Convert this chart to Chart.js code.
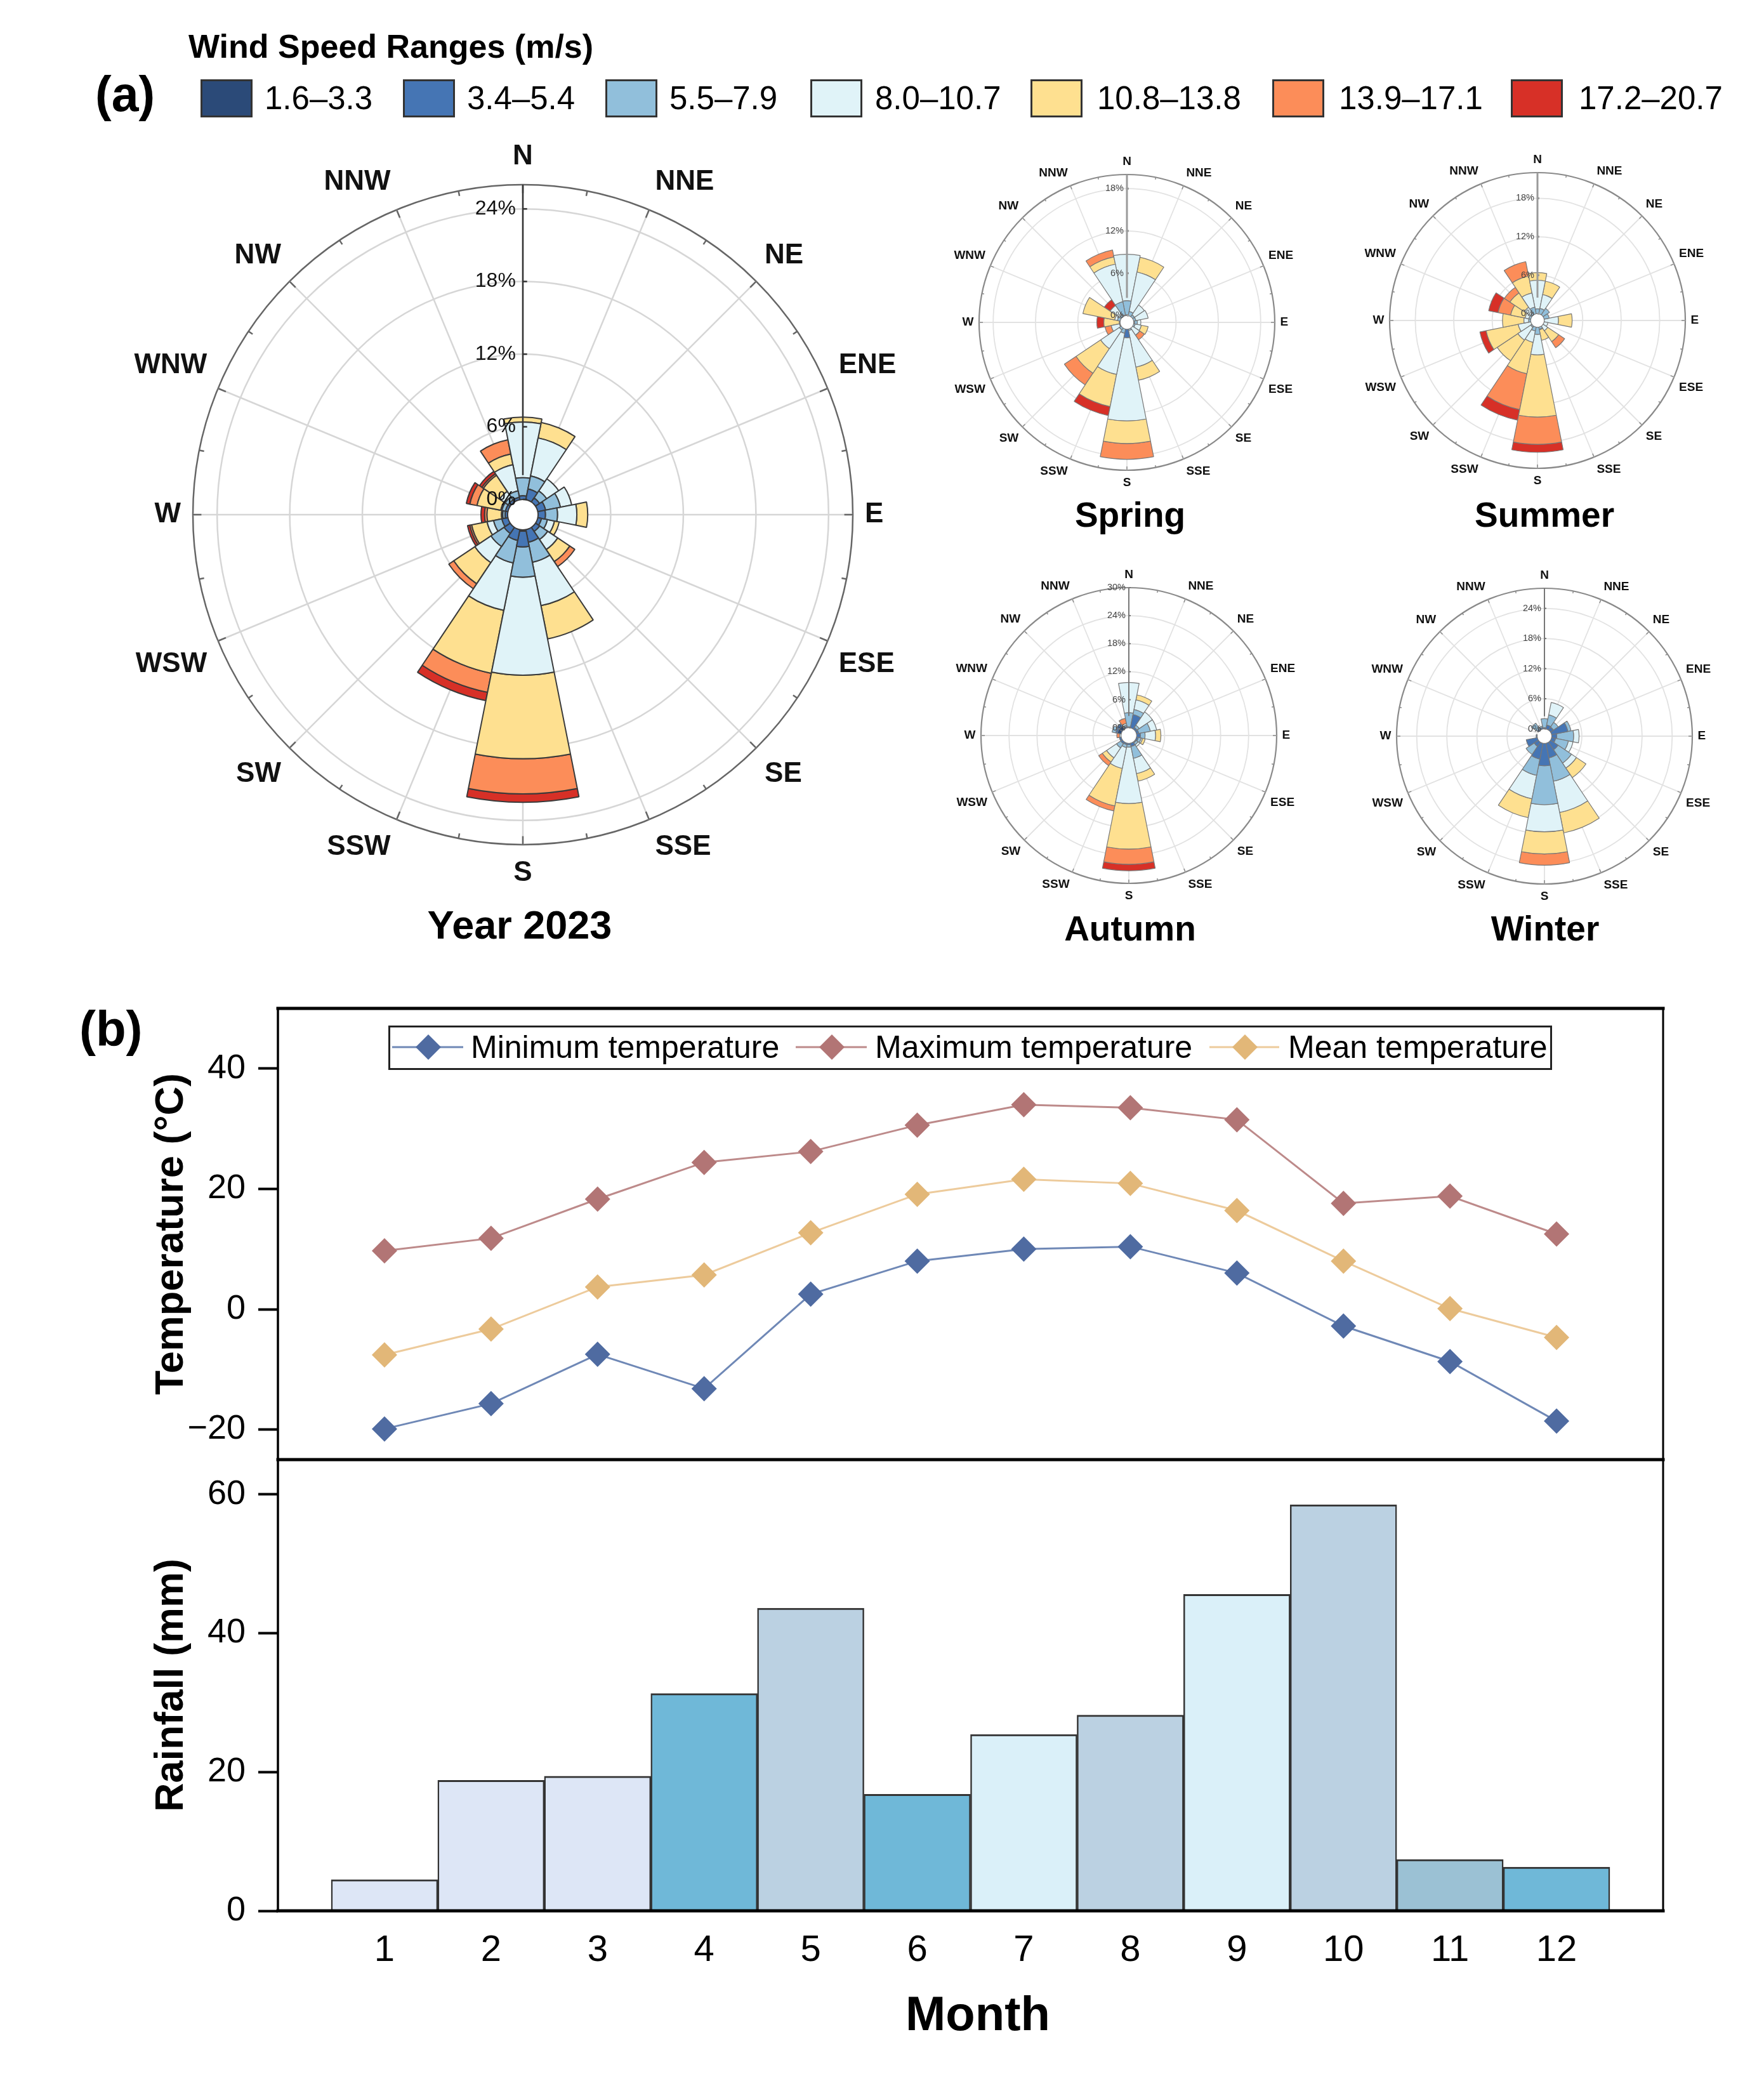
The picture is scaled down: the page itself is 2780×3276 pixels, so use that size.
<!DOCTYPE html>
<html>
<head>
<meta charset="utf-8">
<title>Wind roses and monthly climate 2023</title>
<script src="https://cdn.jsdelivr.net/npm/chart.js@4"></script>
<style>
  html, body { margin: 0; padding: 0; background: #fff; }
  body { position: relative; width: 2780px; height: 3276px; overflow: hidden; font-family: "Liberation Sans", Arial, sans-serif; color: #000; }
  canvas { position: absolute; }
  .txt { position: absolute; white-space: nowrap; line-height: 1; }
  .mid { transform: translate(-50%, -50%); }
  .vmid { transform: translateY(-50%); }
  .b { font-weight: bold; }
  .swatch { position: absolute; box-sizing: border-box; border: 3px solid #333; }
  #tempLegend { position: absolute; left: 612px; top: 1616px; width: 1834px; height: 70px; box-sizing: border-box; border: 3px solid #222; background: #fff; z-index: 2; }
</style>
</head>
<body>
<script>
// ---- data ----
const directions = ['N', 'NNE', 'NE', 'ENE', 'E', 'ESE', 'SE', 'SSE', 'S', 'SSW', 'SW', 'WSW', 'W', 'WNW', 'NW', 'NNW'];
const speedBins = ['1.6–3.3', '3.4–5.4', '5.5–7.9', '8.0–10.7', '10.8–13.8', '13.9–17.1', '17.2–20.7'];
const speedColors = ['#2b4a78', '#4575b4', '#91bfdb', '#e0f3f8', '#fee090', '#fc8d59', '#d73027'];

// each row is one direction, each column one speed bin (% of time)
const yearRose = [
  [0, 0.3, 1.5, 4.6, 0.4, 0, 0],
  [0, 0.9, 1.1, 3.2, 1.3, 0, 0],
  [0, 0.4, 0.7, 1.2, 0, 0, 0],
  [0, 0.65, 1.25, 0.95, 0, 0, 0],
  [0, 0.6, 1.0, 1.6, 0.9, 0, 0],
  [0, 0.3, 0.5, 0.6, 0.4, 0, 0],
  [0, 0.4, 0.8, 1.0, 1.2, 0.5, 0],
  [0, 1.05, 1.7, 3.65, 2.8, 0, 0],
  [0.1, 1.3, 2.5, 8.1, 6.9, 2.9, 0.7],
  [0, 0.9, 1.9, 4.0, 5.3, 1.6, 0.7],
  [0, 0.6, 1.3, 1.6, 2.1, 0.5, 0],
  [0, 0.5, 0.7, 0.55, 1.3, 0.15, 0.2],
  [0, 0.2, 0.2, 0.1, 1.2, 0.2, 0.3],
  [0, 0.2, 0.3, 0.1, 2.0, 0.6, 0.3],
  [0, 0.2, 0.3, 0.55, 1.6, 0.15, 0.25],
  [0, 0.2, 0.55, 2.2, 0.9, 1.2, 0],
];
const springRose = [
  [0, 0.1, 2.0, 6.6, 0, 0, 0],
  [0, 0, 0.6, 5.7, 2.15, 0, 0],
  [0, 0, 0.3, 1.7, 0, 0, 0],
  [0, 0, 0.3, 1.8, 0, 0, 0],
  [0, 0.1, 0.4, 0.5, 0, 0, 0],
  [0, 0, 0.2, 0.9, 1.0, 0, 0],
  [0, 0, 0, 1.2, 0, 0.8, 0],
  [0, 0, 0.2, 5.3, 1.9, 0, 0],
  [0, 1.2, 0, 11.8, 3.2, 2.25, 0],
  [0, 0, 0.6, 5.95, 4.65, 0, 1.3],
  [0, 0, 0.3, 3.2, 4.2, 2.0, 0],
  [0, 0, 0.1, 1.2, 0, 0.9, 0],
  [0, 0, 0, 0.1, 2.2, 0, 1.0],
  [0, 0, 0.4, 0.4, 4.6, 0, 0],
  [0, 0, 0.3, 1.6, 0, 0, 1.0],
  [0, 0.1, 1.9, 5.45, 1.05, 1.0, 0],
];
const summerRose = [
  [0, 0, 0.75, 4.45, 1.2, 0, 0],
  [0, 0, 0.85, 2.2, 2.15, 0, 0],
  [0, 0, 1.2, 0, 0, 0, 0],
  [0, 0, 0.8, 0, 0, 0, 0],
  [0, 0, 0, 2.2, 2.15, 0, 0],
  [0, 0, 0, 0.6, 0, 0, 0],
  [0, 0, 0, 0.85, 2.05, 1.15, 0],
  [0, 0, 0.3, 0.1, 1.7, 0, 0],
  [0, 0, 1.1, 3.2, 9.7, 4.25, 1.25],
  [0, 0, 0.6, 1.8, 5.0, 5.7, 1.7],
  [0, 0, 0.2, 2.4, 3.9, 0, 0],
  [0, 0, 0, 2.0, 5.1, 0, 1.0],
  [0, 0, 0.3, 0.75, 3.35, 0, 0],
  [0, 0, 0.3, 0.6, 2.3, 2.0, 1.5],
  [0, 0, 0.3, 1.1, 2.7, 1.05, 0],
  [0, 0, 1.05, 2.25, 2.7, 2.3, 0],
];
const autumnRose = [
  [0, 0.2, 3.0, 6.5, 0, 0, 0],
  [0, 2.9, 1.1, 2.1, 1.1, 0, 0],
  [0, 0.4, 0.6, 3.4, 0, 0, 0],
  [0, 0.5, 2.5, 1.4, 0, 0, 0],
  [0, 0.8, 1.0, 2.25, 1.15, 0, 0],
  [0, 0.4, 0.6, 0.3, 0.6, 0, 0],
  [0, 0.2, 0.5, 0.5, 0, 0, 0],
  [0, 0.7, 2.6, 3.35, 1.65, 0, 0],
  [0, 0.3, 0.5, 12.1, 9.75, 3.25, 1.4],
  [0, 0.3, 0.65, 4.55, 8.2, 1.1, 0],
  [0, 0.4, 1.1, 2.55, 1.1, 0.95, 0],
  [0, 0.4, 0, 0, 0, 0, 0],
  [0, 0, 0, 0.3, 0, 0.6, 0],
  [0.8, 0.4, 0.8, 0, 0, 0, 0],
  [0.7, 0.7, 0, 0, 0, 0, 0],
  [0, 0.3, 0.3, 0.35, 0, 1.15, 0],
];
const winterRose = [
  [0, 0.2, 1.85, 0, 0, 0, 0],
  [0, 0.8, 2.05, 2.55, 0, 0, 0],
  [0, 0.7, 1.15, 0, 0, 0, 0],
  [0, 3.3, 0.65, 0, 0, 0, 0],
  [0, 1.0, 3.35, 1.1, 0, 0, 0],
  [0, 0.8, 2.6, 0.95, 0, 0, 0],
  [0, 1.8, 3.2, 1.2, 2.3, 0, 0],
  [0, 2.95, 4.75, 6.35, 4.15, 0, 0],
  [0, 4.45, 7.75, 5.4, 4.4, 2.25, 0],
  [0, 3.2, 3.3, 4.75, 3.85, 0, 0],
  [0, 1.0, 1.95, 0, 0, 0, 0],
  [0, 2.25, 0, 0, 0, 0, 0],
  [0, 0.2, 0, 0, 0, 0, 0],
  [0, 0, 0, 0, 0, 0, 0],
  [0, 0.3, 1.35, 0, 0, 0, 0],
  [0, 0.3, 0.3, 0, 0, 0, 0],
];
const yearRings = [0, 6, 12, 18, 24];
const springRings = [0, 6, 12, 18];
const summerRings = [0, 6, 12, 18];
const autumnRings = [0, 6, 12, 18, 24, 30];
const winterRings = [0, 6, 12, 18, 24];

const months = ['1', '2', '3', '4', '5', '6', '7', '8', '9', '10', '11', '12'];
const tempMin = [-19.9, -15.7, -7.5, -13.2, 2.5, 8.0, 10.0, 10.4, 6.0, -2.8, -8.7, -18.6];
const tempMax = [9.7, 11.8, 18.3, 24.4, 26.2, 30.6, 34.0, 33.5, 31.5, 17.6, 18.8, 12.5];
const tempMean = [-7.6, -3.3, 3.7, 5.7, 12.7, 19.1, 21.6, 20.9, 16.4, 8.0, 0.1, -4.7];
const rainfall = [4.5, 18.8, 19.4, 31.3, 43.6, 16.8, 25.4, 28.2, 45.6, 58.5, 7.4, 6.3];
const rainColors = ['#dde6f6', '#dde6f6', '#dde6f6', '#6fb8d8', '#bbd1e2', '#6fb8d8', '#daf0f9', '#bbd1e2', '#daf0f9', '#bbd1e2', '#9bc1d4', '#6fb8d8'];

// ---- stacked wind rose on top of the polar area controller ----
Chart.defaults.font.family = '"Liberation Sans", Arial, sans-serif';
Chart.defaults.color = '#000';

class WindRoseController extends Chart.PolarAreaController {
  static id = 'windRose';
  updateElement(arc, index, props, mode) {
    const half = Math.PI / directions.length;
    const scale = this._cachedMeta.rScale;
    const sets = this.chart.data.datasets;
    let base = 0;
    for (let d = 0; d < this.index; d++) base += sets[d].data[index];
    props.innerRadius = scale.getDistanceFromCenterForValue(base);
    props.outerRadius = scale.getDistanceFromCenterForValue(base + sets[this.index].data[index]);
    props.startAngle -= half;
    props.endAngle -= half;
    super.updateElement(arc, index, props, mode);
  }
}
Chart.register(WindRoseController);

const roseFurniture = {
  id: 'roseFurniture',
  beforeDatasetsDraw(chart) {
    const s = chart.scales.r, ctx = chart.ctx;
    ctx.save();
    ctx.fillStyle = '#fff';
    ctx.beginPath();
    ctx.arc(s.xCenter, s.yCenter, s.getDistanceFromCenterForValue(0), 0, Math.PI * 2);
    ctx.fill();
    ctx.restore();
  },
  afterDatasetsDraw(chart, args, o) {
    const s = chart.scales.r, ctx = chart.ctx;
    const R = s.getDistanceFromCenterForValue(o.outer), k = R / 233;
    ctx.save();
    // marks on the outer ring, on the spokes and half way between them
    ctx.strokeStyle = o.ringColor;
    ctx.lineWidth = 1.2 * k > 2 ? 2.5 : 1.5;
    directions.forEach((d, i) => {
      [[0, 6], [Math.PI / 16, 3.5]].forEach(([extra, len]) => {
        const a = s.getPointPosition(i, R, extra), b = s.getPointPosition(i, R - len * k, extra);
        ctx.beginPath(); ctx.moveTo(a.x, a.y); ctx.lineTo(b.x, b.y); ctx.stroke();
      });
    });
    // radial axis
    ctx.strokeStyle = o.axisColor;
    ctx.lineWidth = o.axisWidth;
    ctx.beginPath();
    ctx.moveTo(s.xCenter, s.yCenter - R);
    ctx.lineTo(s.xCenter, s.yCenter - s.getDistanceFromCenterForValue(o.axisEnd));
    ctx.stroke();
    ctx.font = o.tickFont + 'px "Liberation Sans"';
    ctx.fillStyle = o.tickColor;
    ctx.textAlign = 'right';
    ctx.textBaseline = 'middle';
    o.rings.forEach(v => {
      const y = s.yCenter - s.getDistanceFromCenterForValue(v);
      ctx.beginPath(); ctx.moveTo(s.xCenter, y); ctx.lineTo(s.xCenter + 3 * k, y); ctx.stroke();
      ctx.fillText(v + '%', s.xCenter - 5 * k, y);
    });
    // direction names
    ctx.font = 'bold ' + o.labelFont + 'px "Liberation Sans"';
    ctx.fillStyle = '#111';
    ctx.textAlign = 'center';
    directions.forEach((d, i) => {
      const p = s.getPointPosition(i, R);
      const cos = Math.cos(p.angle), sin = Math.sin(p.angle);
      const w = ctx.measureText(d).width;
      const dx = Math.abs(cos) < 0.01 ? 0 : Math.sign(cos) * (w / 2 + (8.5 - 5 * sin * sin) * k);
      const dy = Math.abs(sin) < 0.01 ? 0 : Math.sign(sin) * (14 + 6 * Math.abs(sin)) * k;
      ctx.fillText(d, p.x + dx, p.y + dy);
    });
    ctx.restore();
  },
};

function addRose(rows, rings, outer, hole, cx, cy, R, pad, style) {
  const canvas = document.createElement('canvas');
  const size = 2 * (R + pad);
  canvas.width = size;
  canvas.height = size;
  canvas.style.left = (cx - R - pad) + 'px';
  canvas.style.top = (cy - R - pad) + 'px';
  document.body.appendChild(canvas);
  new Chart(canvas, {
    type: 'windRose',
    data: {
      labels: directions,
      datasets: speedBins.map((bin, b) => ({
        label: bin,
        data: rows.map(row => row[b]),
        backgroundColor: speedColors[b],
        borderColor: style.petalColor,
        borderWidth: ctx => (ctx.raw ? style.petalWidth : 0),
      })),
    },
    options: {
      responsive: false,
      animation: false,
      events: [],
      layout: { padding: pad },
      plugins: {
        legend: { display: false },
        tooltip: { enabled: false },
        roseFurniture: Object.assign({ rings, outer }, style),
      },
      scales: {
        r: {
          min: -hole,
          max: outer,
          startAngle: 0,
          afterBuildTicks: s => { s.ticks = rings.concat(rings.includes(outer) ? [] : [outer]).map(v => ({ value: v })); },
          ticks: { display: false },
          pointLabels: { display: false },
          angleLines: { display: true, color: style.gridColor, lineWidth: style.gridWidth },
          grid: {
            circular: true,
            color: c => (c.tick.value === outer ? style.ringColor : style.gridColor),
            lineWidth: c => (c.tick.value === outer ? style.ringWidth : style.gridWidth),
          },
        },
      },
    },
    plugins: [roseFurniture],
  });
}

const bigStyle = { petalColor: '#3a3a3a', petalWidth: 2, gridColor: '#d6d6d6', gridWidth: 2.5, ringColor: '#666', ringWidth: 2.5, axisColor: '#333', axisWidth: 2.5, axisEnd: 2, tickFont: 32, tickColor: '#111', labelFont: 44 };
const grayAxis = { petalColor: '#777', petalWidth: 1.2, gridColor: '#e2e2e2', gridWidth: 1.8, ringColor: '#8a8a8a', ringWidth: 2.2, axisColor: '#9a9a9a', axisWidth: 3, axisEnd: 2.5, tickFont: 14.5, tickColor: '#444', labelFont: 19 };
const darkAxis = Object.assign({}, grayAxis, { axisColor: '#777', axisWidth: 2 });

addRose(yearRose, yearRings, 26, 1.26, 824, 811, 520, 140, bigStyle);
addRose(springRose, springRings, 20, 0.97, 1776, 508, 233, 70, grayAxis);
addRose(summerRose, summerRings, 22, 1.06, 2423, 505, 233, 70, grayAxis);
addRose(autumnRose, autumnRings, 30, 1.67, 1779, 1159, 233, 70, darkAxis);
addRose(winterRose, winterRings, 28, 1.45, 2434, 1160, 233, 70, darkAxis);

// ---- panel b ----
function framePlugin(sides) {
  return {
    id: 'frame',
    afterDraw(chart) {
      const a = chart.chartArea, ctx = chart.ctx;
      ctx.save();
      ctx.strokeStyle = '#000';
      ctx.lineCap = 'square';
      const seg = (x1, y1, x2, y2, w) => {
        ctx.lineWidth = w;
        ctx.beginPath(); ctx.moveTo(x1, y1); ctx.lineTo(x2, y2); ctx.stroke();
      };
      if (sides.includes('top')) seg(a.left, a.top, a.right, a.top, 5);
      if (sides.includes('left')) seg(a.left, a.top, a.left, a.bottom, 3.5);
      if (sides.includes('right')) seg(a.right, a.top, a.right, a.bottom, 3);
      if (sides.includes('bottom')) seg(a.left, a.bottom, a.right, a.bottom, 5);
      ctx.restore();
    },
  };
}

const paddedMonths = [''].concat(months, ['']);
const padded = values => [null].concat(values, [null]);
const yTickFmt = v => (v < 0 ? '−' + Math.abs(v) : String(v));

function yAxis(title, min, max) {
  return {
    min,
    max,
    afterFit: s => { s.width = 205; },
    border: { display: false },
    grid: { drawOnChartArea: false, drawTicks: true, tickLength: 31, tickColor: '#000', tickWidth: 4 },
    ticks: { stepSize: 20, includeBounds: false, padding: 20, font: { size: 54 }, color: '#000', callback: yTickFmt },
    title: { display: true, text: title, font: { size: 63, weight: 'bold' }, color: '#000', padding: 0 },
  };
}

function addCanvas(top, height) {
  const canvas = document.createElement('canvas');
  canvas.width = 2780;
  canvas.height = height;
  canvas.style.left = '0px';
  canvas.style.top = top + 'px';
  document.body.appendChild(canvas);
  return canvas;
}

const tempSeries = [
  { label: 'Minimum temperature', data: tempMin, line: '#6f88b6', marker: '#4f6ba1' },
  { label: 'Maximum temperature', data: tempMax, line: '#bd8a8a', marker: '#b27575' },
  { label: 'Mean temperature', data: tempMean, line: '#edcb9c', marker: '#e2b778' },
];

new Chart(addCanvas(1500, 880), {
  type: 'line',
  data: {
    labels: paddedMonths,
    datasets: tempSeries.map(t => ({
      label: t.label,
      data: padded(t.data),
      borderColor: t.line,
      borderWidth: 3,
      tension: 0,
      pointStyle: 'rectRot',
      pointRadius: 20,
      pointBorderWidth: 0,
      pointBackgroundColor: t.marker,
    })),
  },
  options: {
    responsive: false,
    animation: false,
    events: [],
    layout: { padding: { left: 233, right: 159, top: 89, bottom: 80 } },
    plugins: { legend: { display: false }, tooltip: { enabled: false } },
    scales: {
      x: { display: false, offset: false },
      y: yAxis('Temperature (°C)', -25, 50),
    },
  },
  plugins: [framePlugin(['top', 'left', 'right', 'bottom'])],
});

new Chart(addCanvas(2200, 1076), {
  type: 'bar',
  data: {
    labels: paddedMonths,
    datasets: [{
      label: 'Rainfall',
      data: padded(rainfall),
      backgroundColor: padded(rainColors),
      borderColor: '#333',
      borderWidth: { top: 3, left: 2.5, right: 2.5, bottom: 0 },
      borderSkipped: false,
      barPercentage: 1,
      categoryPercentage: 1,
    }],
  },
  options: {
    responsive: false,
    animation: false,
    events: [],
    layout: { padding: { left: 233, right: 159, top: 100, bottom: 0 } },
    plugins: { legend: { display: false }, tooltip: { enabled: false } },
    scales: {
      x: {
        offset: false,
        afterFit: s => { s.height = 265; },
        border: { display: false },
        grid: { display: false },
        ticks: { padding: 20, autoSkip: false, maxRotation: 0, font: { size: 58 }, color: '#000' },
      },
      y: yAxis('Rainfall (mm)', 0, 65),
    },
  },
  plugins: [framePlugin(['left', 'right', 'bottom'])],
});

// ---- text and legends around the charts ----
function addText(str, cls, left, top, size) {
  const el = document.createElement('div');
  el.className = 'txt ' + cls;
  el.textContent = str;
  el.style.left = left + 'px';
  el.style.top = top + 'px';
  el.style.fontSize = size + 'px';
  document.body.appendChild(el);
  return el;
}

addText('(a)', 'b vmid', 150, 148, 77);
addText('(b)', 'b vmid', 125, 1621, 78);
addText('Wind Speed Ranges (m/s)', 'b vmid', 297, 73, 52);
addText('Year 2023', 'b mid', 819, 1457, 63);
addText('Spring', 'b mid', 1781, 811, 55);
addText('Summer', 'b mid', 2434, 811, 55);
addText('Autumn', 'b mid', 1781, 1463, 55);
addText('Winter', 'b mid', 2435, 1463, 55);
addText('Month', 'b mid', 1541, 3173, 76);

const swatchLefts = [316, 635, 954, 1277, 1624, 2005, 2381];
const swatchTextLefts = [417, 736, 1055, 1379, 1729, 2110, 2488];
speedBins.forEach((bin, i) => {
  const sw = document.createElement('div');
  sw.className = 'swatch';
  sw.style.cssText = `left:${swatchLefts[i]}px;top:125px;width:82px;height:60px;background:${speedColors[i]}`;
  document.body.appendChild(sw);
  addText(bin, 'vmid', swatchTextLefts[i], 154, 51);
});

const legendSvg = document.createElementNS('http://www.w3.org/2000/svg', 'svg');
legendSvg.setAttribute('width', 2780);
legendSvg.setAttribute('height', 100);
legendSvg.style.cssText = 'position:absolute;left:0;top:1600px;z-index:3';
const legendX = [[618, 730, 675], [1254, 1366, 1311], [1906, 2016, 1962]];
legendSvg.innerHTML = tempSeries.map((t, i) => {
  const [x1, x2, c] = legendX[i];
  return `<line x1="${x1}" x2="${x2}" y1="50" y2="50" stroke="${t.line}" stroke-width="3"/>` +
    `<polygon points="${c - 20},50 ${c},30 ${c + 20},50 ${c},70" fill="${t.marker}"/>`;
}).join('');
const legendBox = document.createElement('div');
legendBox.id = 'tempLegend';
document.body.appendChild(legendBox);
document.body.appendChild(legendSvg);
[742, 1379, 2030].forEach((x, i) => {
  addText(tempSeries[i].label, 'vmid', x, 1650, 50).style.zIndex = 3;
});
</script>
</body>
</html>
